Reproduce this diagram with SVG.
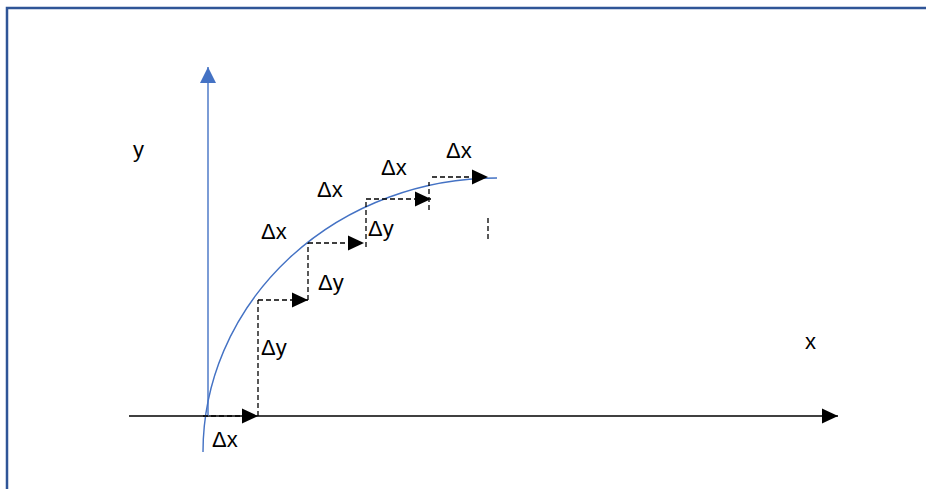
<svg xmlns="http://www.w3.org/2000/svg" width="926" height="489" viewBox="0 0 926 489">
<style>
text{font-family:"Liberation Sans",Arial,sans-serif;font-size:22px;fill:#000}
.dash{stroke:#000;stroke-width:1.3;stroke-dasharray:5,3;fill:none}
.blue{stroke:#4472C4;stroke-width:1.4;fill:none}
</style>
<defs>
<marker id="ah" markerUnits="userSpaceOnUse" markerWidth="18" markerHeight="18" refX="16" refY="8.5" orient="auto"><path d="M0,1 L16,8.5 L0,16 Z" fill="#000"/></marker>
<marker id="ahb" markerUnits="userSpaceOnUse" markerWidth="18" markerHeight="18" refX="16" refY="8.5" orient="auto"><path d="M0,0.5 L16,8.5 L0,16.5 Z" fill="#4472C4"/></marker>
</defs>
<rect width="926" height="489" fill="#fff"/>
<path d="M7,495 V8 H930" fill="none" stroke="#2F5597" stroke-width="2.5"/>
<g id="connectors">
<line x1="129" y1="416" x2="838" y2="416" stroke="#000" stroke-width="1.3" marker-end="url(#ah)"/>
<line x1="208" y1="416" x2="208" y2="67" class="blue" marker-end="url(#ahb)"/>
<path d="M203,452 A294,274 0 0 1 497,178" class="blue"/>
<line x1="203" y1="416" x2="258" y2="416" class="dash" marker-end="url(#ah)"/>
<line x1="258" y1="416" x2="258" y2="300" class="dash"/>
<line x1="258" y1="300" x2="308" y2="300" class="dash" marker-end="url(#ah)"/>
<line x1="308" y1="300" x2="308" y2="243" class="dash"/>
<line x1="308" y1="243" x2="364" y2="243" class="dash" marker-end="url(#ah)"/>
<line x1="366" y1="247" x2="366" y2="199" class="dash"/>
<line x1="366" y1="199" x2="431" y2="199" class="dash" marker-end="url(#ah)"/>
<line x1="429" y1="210" x2="429" y2="182" class="dash"/>
<line x1="432" y1="177" x2="488" y2="177" class="dash" marker-end="url(#ah)"/>
<line x1="488" y1="218" x2="488" y2="242" class="dash"/>
</g>
<g id="labels">
<text id="label-y" x="133" y="157">y</text>
<text id="label-x" x="805" y="349">x</text>
<text id="dx1" x="212" y="447">Δx</text>
<text id="dy1" x="261" y="355">Δy</text>
<text id="dy2" x="318" y="290">Δy</text>
<text id="dx2" x="261" y="239">Δx</text>
<text id="dx3" x="317" y="197">Δx</text>
<text id="dy3" x="368" y="236">Δy</text>
<text id="dx4" x="381" y="175">Δx</text>
<text id="dx5" x="446" y="158">Δx</text>
</g>
</svg>
